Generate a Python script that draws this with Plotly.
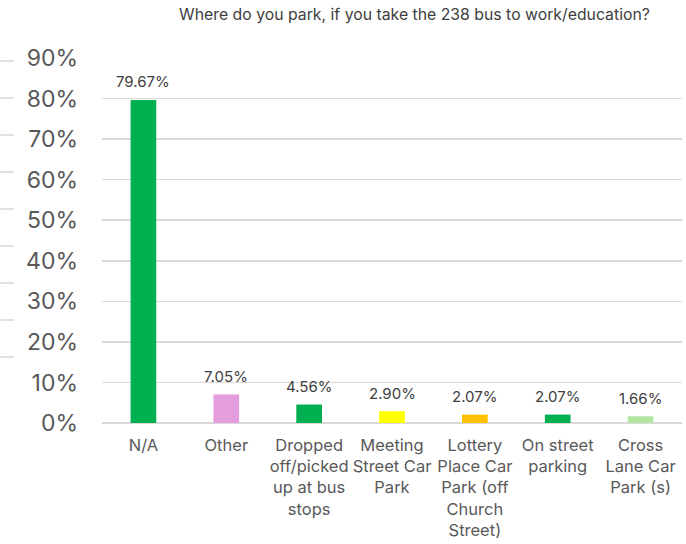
import plotly.graph_objects as go

categories = ["N/A", "Other", "Dropped<br>off/picked<br>up at bus<br>stops", "Meeting<br>Street Car<br>Park",
              "Lottery<br>Place Car<br>Park (off<br>Church<br>Street)", "On street<br>parking", "Cross<br>Lane Car<br>Park (s)"]
values = [79.67, 7.05, 4.56, 2.90, 2.07, 2.07, 1.66]
colors = ["#00B050", "#E49EDD", "#00B050", "#FFFF00", "#FFC000", "#00B050", "#B4E5A2"]
tick_vals = [0, 10, 20, 30, 40, 50, 60, 70, 80, 90]
tick_text = [f"{v}%" for v in tick_vals]
stub_y = [61, 98, 135, 172, 209, 246, 283, 320, 357]

font = "Inter, Roboto, Arial, sans-serif"
W, H = 686, 544
L, R, T, B = 102, 4, 58, 121
PW, PH = W - L - R, H - T - B

fig = go.Figure(go.Bar(
    x=categories, y=values,
    marker=dict(color=colors, line=dict(width=0)),
    width=0.31,
    cliponaxis=False,
))

for c, v in zip(categories, values):
    fig.add_annotation(x=c, y=v, text=f"{v:.2f}%", showarrow=False,
                       yanchor="middle", yshift=18,
                       font=dict(size=15, color="#404040", family=font))

shapes = [dict(type="line", xref="paper", yref="paper",
               x0=(0 - L) / PW, x1=(14 - L) / PW,
               y0=(423 - y) / PH, y1=(423 - y) / PH,
               line=dict(color="#d9d9d9", width=1.5)) for y in stub_y]

fig.update_layout(
    width=W, height=H,
    margin=dict(l=L, r=R, t=T, b=B),
    paper_bgcolor="white", plot_bgcolor="white",
    title=dict(text="Where do you park, if you take the 238 bus to work/education?",
               x=414.5 / W, xanchor="center", y=1 - 14 / H, yanchor="middle",
               font=dict(size=15.8, color="#404040", family=font)),
    yaxis=dict(range=[0, 90], tickvals=tick_vals, ticktext=tick_text,
               tickfont=dict(size=23, color="#595959", family=font),
               showgrid=True, gridcolor="#d9d9d9", gridwidth=1.5,
               zeroline=True, zerolinecolor="#d9d9d9", zerolinewidth=1.5,
               ticklabelstandoff=23, fixedrange=True),
    xaxis=dict(tickfont=dict(size=16.5, color="#595959", family=font),
               showline=False, ticks="", ticklabelstandoff=10, fixedrange=True),
    showlegend=False,
    shapes=shapes,
    bargap=0.69,
    hovermode=False,
)

fig.write_html("out.html", config={"displayModeBar": False, "staticPlot": True},
               post_script="document.body.style.margin='0';document.body.style.overflow='hidden';")
